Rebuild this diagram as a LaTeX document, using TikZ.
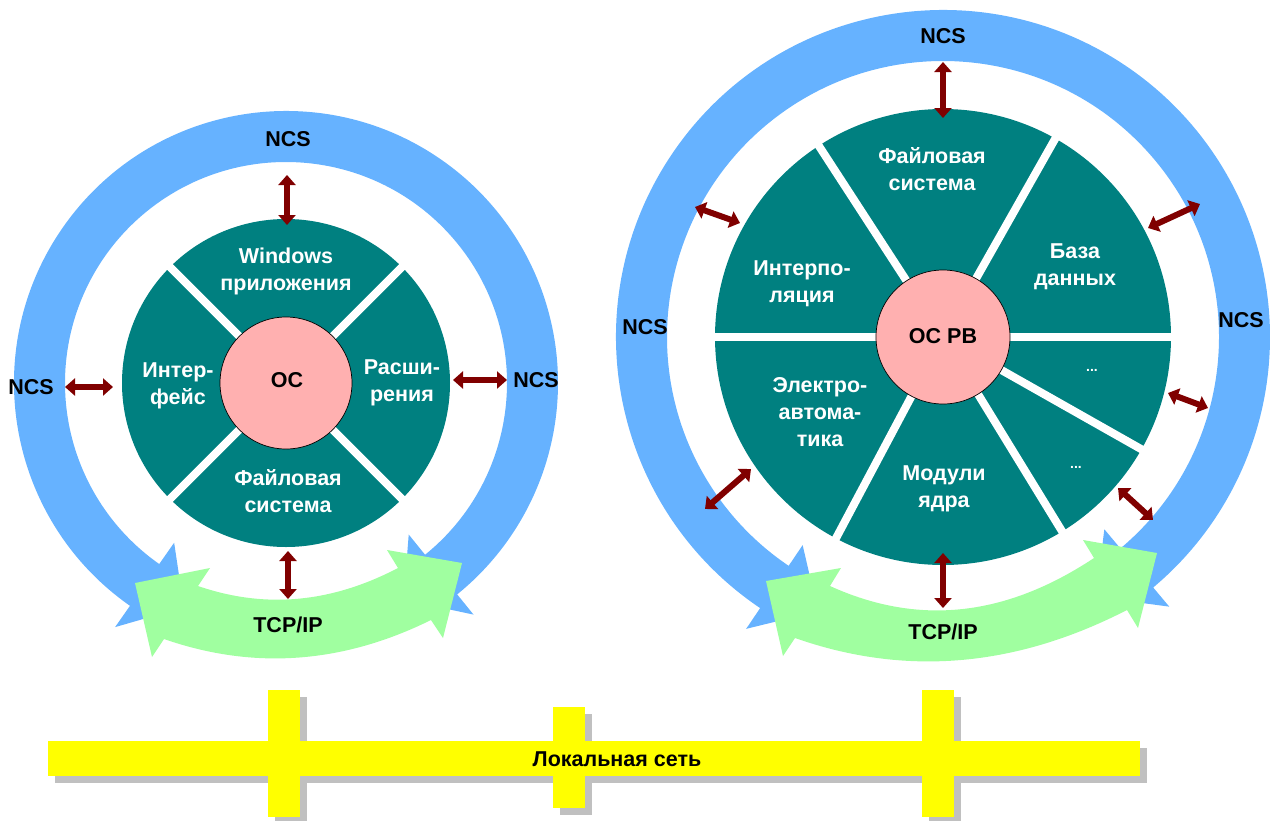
\documentclass[tikz,border=0pt]{standalone}
\usepackage{fontspec}
\setmainfont{Liberation Sans}
\usetikzlibrary{arrows.meta}
\definecolor{ncsblue}{RGB}{102,178,255}
\definecolor{osteal}{RGB}{0,128,128}
\definecolor{ospink}{RGB}{255,176,176}
\definecolor{tcpgreen}{RGB}{160,255,160}
\definecolor{linkred}{RGB}{128,0,0}
\definecolor{lanyellow}{RGB}{255,255,0}
\definecolor{lanshadow}{RGB}{192,192,192}
\tikzset{
  lbl/.style={font=\fontsize{21.5}{27}\selectfont\bfseries, align=center, inner sep=0pt},
  seg/.style={lbl, text=white},
  dots/.style={font=\fontsize{14}{16}\selectfont\bfseries, text=white, inner sep=0pt},
  gap/.style={white, line width=8pt},
  link/.style={linkred, line width=6pt, {Triangle[width=17pt,length=10pt]}-{Triangle[width=17pt,length=10pt]}},
}
\begin{document}
\begin{tikzpicture}[x=1pt,y=-1pt]
\useasboundingbox (0,0) rectangle (1270,820);
\def\xL{286};
\def\yL{383};
\def\xR{943};
\def\yR{337};
\coordinate (L) at (\xL,\yL);
\coordinate (R) at (\xR,\yR);
% NCS rings
\fill[ncsblue, shift={(L)}] (125:272) arc[start angle=125, end angle=411, radius=272] -- (411:298) -- (421.5:246.5) -- (411:195) -- (411:221) arc[start angle=411, end angle=125, radius=221] -- (125:195) -- (114.5:246.5) -- (125:298) -- cycle;
\fill[ncsblue, shift={(R)}] (124:327) arc[start angle=124, end angle=410, radius=327] -- (410:352) -- (419.5:301.5) -- (410:251) -- (410:276) arc[start angle=410, end angle=124, radius=276] -- (124:251) -- (114.5:301.5) -- (124:352) -- cycle;
% TCP/IP
\fill[tcpgreen] (198,586) .. controls (265,609) and (331,603) .. (398,568) -- (387,550) -- (462,563) -- (443,638) -- (431,620) .. controls (342,664) and (253,670) .. (164,639) -- (152,657) -- (135,583) -- (210,568) -- cycle;
\fill[tcpgreen] (830,586) .. controls (918,626) and (1005,617) .. (1094,558) -- (1083,540) -- (1157,553) -- (1138,628) -- (1127,610) .. controls (1016,667) and (906,677) .. (795,638) -- (783,656) -- (766,581) -- (841,568) -- cycle;
% discs
\fill[osteal] (L) circle[radius=164];
\foreach \a in {45,135,225,315} \draw[gap] (L) -- ++(\a:166);
\filldraw[fill=ospink, draw=black, line width=0.7pt] (L) circle[radius=66];
\fill[osteal] (R) circle[radius=228];
\foreach \a in {0,29.5,58.5,118,180,237,299.5} \draw[gap] (R) -- ++(\a:230);
\filldraw[fill=ospink, draw=black, line width=0.7pt] (R) circle[radius=67];
% LAN
\fill[lanshadow] (55,748) rectangle (1147,783);
\foreach \x/\t/\b in {268/690/817, 553/707/808, 922/690/817} \fill[lanshadow] (\x+7,\t+7) rectangle (\x+39,\b+7);
\fill[lanyellow] (48,741) rectangle (1140,776);
\foreach \x/\t/\b in {268/690/817, 553/707/808, 922/690/817} \fill[lanyellow] (\x,\t) rectangle (\x+32,\b);
\node[lbl] (lan) at (617,759) {Локальная сеть};
% left labels
\node[lbl] (osL) at (287,380) {ОС};
\node[seg] (win) at (286,271) {Windows\\приложения};
\node[seg] (iface) at (178,386) {Интер-\\фейс};
\node[seg] (ext) at (402,383) {Расши-\\рения};
\node[seg] (fsL) at (288,491) {Файловая\\система};
\node[lbl] (ncsLt) at (288,139) {NCS};
\node[lbl] (ncsLl) at (31,387) {NCS};
\node[lbl] (ncsLr) at (536,380) {NCS};
\node[lbl] (tcpL) at (288,625) {TCP/IP};
% right labels
\node[lbl] (osR) at (943,336) {ОС РВ};
\node[seg] (fsR) at (932,169) {Файловая\\система};
\node[seg] (db) at (1075,267) {База\\данных};
\node[seg] (interp) at (802,284) {Интерпо-\\ляция};
\node[seg] (elec) at (820,412) {Электро-\\автома-\\тика};
\node[seg] (core) at (944,489) {Модули\\ядра};
\node[dots] (moreA) at (1092,370) {...};
\node[dots] (moreB) at (1076,467) {...};
\node[lbl] (ncsRt) at (943,36) {NCS};
\node[lbl] (ncsRl) at (645,327) {NCS};
\node[lbl] (ncsRr) at (1241,320) {NCS};
\node[lbl] (tcpR) at (943,632) {TCP/IP};
% links
\coordinate (lA1) at (287,175); \coordinate (lA2) at (287,225);
\coordinate (lB1) at (65,387); \coordinate (lB2) at (113,387);
\coordinate (lC1) at (453,380); \coordinate (lC2) at (507,380);
\coordinate (lD1) at (288,551); \coordinate (lD2) at (288,599);
\coordinate (rA1) at (943,62); \coordinate (rA2) at (943,118);
\coordinate (rB1) at (695,207); \coordinate (rB2) at (740,223);
\coordinate (rC1) at (1148,228); \coordinate (rC2) at (1200,204);
\coordinate (rD1) at (751,469); \coordinate (rD2) at (705,509);
\coordinate (rE1) at (1168,393); \coordinate (rE2) at (1208,408);
\coordinate (rF1) at (1118,488); \coordinate (rF2) at (1153,520);
\coordinate (rG1) at (943,553); \coordinate (rG2) at (943,608);
\foreach \p in {lA,lB,lC,lD,rA,rB,rC,rD,rE,rF,rG} \draw[link] (\p1) -- (\p2);
\end{tikzpicture}
\end{document}
